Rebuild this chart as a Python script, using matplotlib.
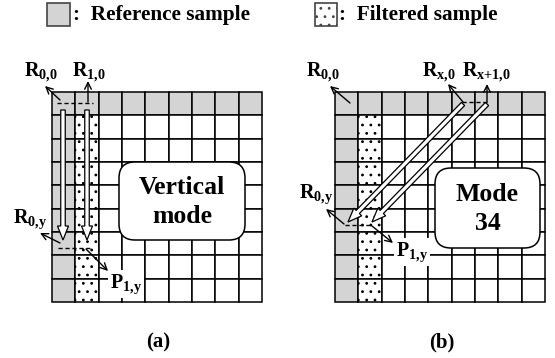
import matplotlib
matplotlib.use("Agg")
import matplotlib.pyplot as plt
from matplotlib.patches import Rectangle, FancyArrow, FancyBboxPatch

plt.rcParams["font.family"] = "Liberation Serif"
plt.rcParams["font.weight"] = "bold"
plt.rcParams["mathtext.fontset"] = "custom"
plt.rcParams["mathtext.rm"] = "Liberation Serif:bold"
plt.rcParams["mathtext.it"] = "Liberation Serif:bold"
plt.rcParams["mathtext.bf"] = "Liberation Serif:bold"
plt.rcParams["hatch.color"] = "#a0a0a0"
plt.rcParams["hatch.linewidth"] = 0.8

# grid description
n_cells = 9
cell = 23.35
panel_origins = {"a": (52, 92), "b": (335, 92)}
ref_gray = "#d4d4d4"
filtered_col = 1
mode_text = {"a": "Vertical\nmode", "b": "Mode\n34"}
mode_box = {"a": (119, 162, 126, 78), "b": (435, 168, 105, 80)}
captions = {"a": (158, 342, "(a)"), "b": (442, 342, "(b)")}

fig = plt.figure(figsize=(5.55, 3.58), dpi=100)
ax = fig.add_axes([0, 0, 1, 1])
ax.set_xlim(0, 555)
ax.set_ylim(358, 0)
ax.axis("off")


def draw_grid(key):
    x0, y0 = panel_origins[key]
    for r in range(n_cells):
        for c in range(n_cells):
            x = x0 + c * cell
            y = y0 + r * cell
            if r == 0 or c == 0:
                ax.add_patch(Rectangle((x, y), cell, cell, fc=ref_gray, ec="black", lw=1.1))
            elif c == filtered_col:
                ax.add_patch(Rectangle((x, y), cell, cell, fc="white", ec="black",
                                       lw=1.1, hatch=".."))
            else:
                ax.add_patch(Rectangle((x, y), cell, cell, fc="white", ec="black", lw=1.1))
    bx, by, bw, bh = mode_box[key]
    ax.add_patch(FancyBboxPatch((bx, by), bw, bh, boxstyle="round,pad=0,rounding_size=16",
                                fc="white", ec="black", lw=1.1, zorder=3))
    ax.text(bx + bw / 2, by + bh / 2 + 1, mode_text[key], ha="center", va="center",
            fontsize=18.5, linespacing=1.3, zorder=4)
    cx, cy, ct = captions[key]
    ax.text(cx, cy, ct, ha="center", va="center", fontsize=15)


def hollow(x1, y1, x2, y2):
    ax.add_patch(FancyArrow(x1, y1, x2 - x1, y2 - y1, width=4.5, head_width=11,
                            head_length=14, length_includes_head=True,
                            fc="white", ec="black", lw=0.9, zorder=5))


def pointer(x1, y1, x2, y2):
    ax.annotate("", xy=(x2, y2), xytext=(x1, y1),
                arrowprops=dict(arrowstyle="->", lw=1.0, color="black",
                                mutation_scale=12, shrinkA=0, shrinkB=0), zorder=6)


def label(x, y, s, size=14.5, bg=False):
    kw = {}
    if bg:
        kw["bbox"] = dict(fc="white", ec="none", pad=1.5)
    ax.text(x, y, s, ha="left", va="center", fontsize=size, zorder=6, **kw)


draw_grid("a")
draw_grid("b")

# panel (a)
ax.plot([57, 93], [103, 103], ls=(0, (3, 2)), color="black", lw=1.0, zorder=6)
ax.plot([58, 90], [248, 248], ls=(0, (3, 2)), color="black", lw=1.0, zorder=6)
hollow(63, 110, 63, 240)
hollow(87, 110, 87, 240)
pointer(60, 100, 45, 86)
pointer(88, 102, 88, 81)
pointer(60, 243, 40, 233)
pointer(86, 249, 108, 271)
label(24, 72, "R$_{0{,}0}$")
label(72, 72, "R$_{1{,}0}$")
label(13, 219, "R$_{0{,}y}$")
label(110, 284, "P$_{1{,}y}$", bg=True)

# panel (b)
ax.plot([462, 488], [102, 102], ls=(0, (3, 2)), color="black", lw=1.0, zorder=6)
ax.plot([345, 372], [225, 225], ls=(0, (3, 2)), color="black", lw=1.0, zorder=6)
hollow(463, 104, 348, 222)
hollow(487, 104, 372, 222)
pointer(350, 103, 330, 86)
pointer(463, 102, 448, 84)
pointer(487, 102, 487, 84)
pointer(344, 224, 326, 209)
pointer(372, 226, 393, 243)
label(306, 72, "R$_{0{,}0}$")
label(422, 72, "R$_{x{,}0}$")
label(462, 72, "R$_{x{+}1{,}0}$")
label(299, 194, "R$_{0{,}y}$")
label(396, 252, "P$_{1{,}y}$", bg=True)

# legend
ax.add_patch(Rectangle((47, 3), 23, 23, fc=ref_gray, ec="#444444", lw=1.2))
ax.text(73, 15, ":  Reference sample", ha="left", va="center", fontsize=15.3)
ax.add_patch(Rectangle((315, 3), 22, 23, fc="white", ec="#444444", lw=1.2, hatch=".."))
ax.text(339, 15, ":  Filtered sample", ha="left", va="center", fontsize=15.3)

fig.savefig("out.png", dpi=100)
